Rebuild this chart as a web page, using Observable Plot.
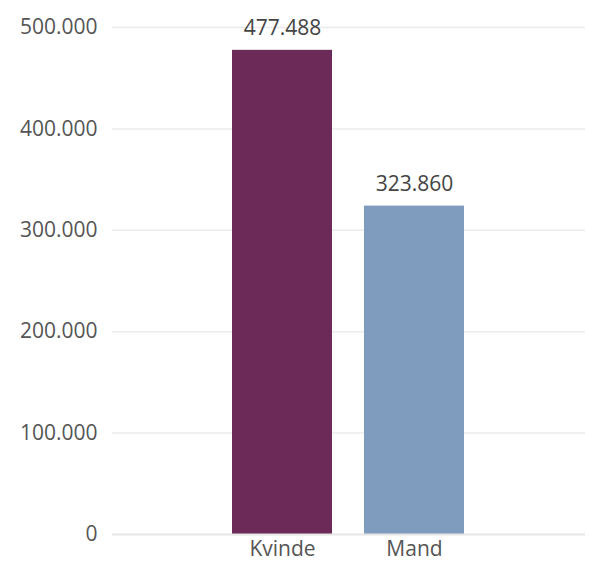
<!DOCTYPE html>
<html><head><meta charset="utf-8">
<script src="https://cdn.jsdelivr.net/npm/d3@7"></script>
<script src="https://cdn.jsdelivr.net/npm/@observablehq/plot@0.6"></script>
<style>body{margin:0;background:#fff;} svg{font-family:"Open Sans",sans-serif;}</style>
</head><body><div id="chart"></div>
<script>
const categories = ["Kvinde", "Mand"];
const values = [477488, 323860];
const colors = ["#6B2A57", "#7F9BBD"];
const yTicks = [0, 100000, 200000, 300000, 400000, 500000];

const data = categories.map((c, i) => ({category: c, value: values[i]}));
const loc = d3.formatLocale({decimal: ",", thousands: ".", grouping: [3], currency: ["", " kr."]});
const fmt = loc.format(",d");

const chart = Plot.plot({
  width: 589,
  height: 570,
  marginLeft: 112,
  marginRight: 4,
  marginTop: 27,
  marginBottom: 36,
  style: {fontSize: "21px", color: "#555", fontFamily: "Open Sans, sans-serif"},
  x: {domain: categories, paddingInner: 0.24, paddingOuter: 0.9, label: null},
  y: {domain: [0, 500000], label: null},
  color: {domain: categories, range: colors},
  marks: [
    Plot.ruleY(yTicks.filter(d => d > 0), {stroke: "#ebebeb", strokeWidth: 1.5}),
    Plot.axisY(yTicks, {tickSize: 0, tickPadding: 15, tickFormat: d => d === 0 ? "0" : fmt(d), fill: "#555", fontSize: 21}),
    Plot.axisX({tickSize: 0, tickPadding: 7, fill: "#555", fontSize: 21}),
    Plot.barY(data, {x: "category", y: "value", fill: "category"}),
    Plot.ruleY([0], {stroke: "#e6e6e6", strokeWidth: 2}),
    Plot.text(data, {x: "category", y: "value", text: d => fmt(d.value), dy: -22, fill: "#444", fontSize: 21})
  ]
});
document.getElementById("chart").appendChild(chart);
</script></body></html>
